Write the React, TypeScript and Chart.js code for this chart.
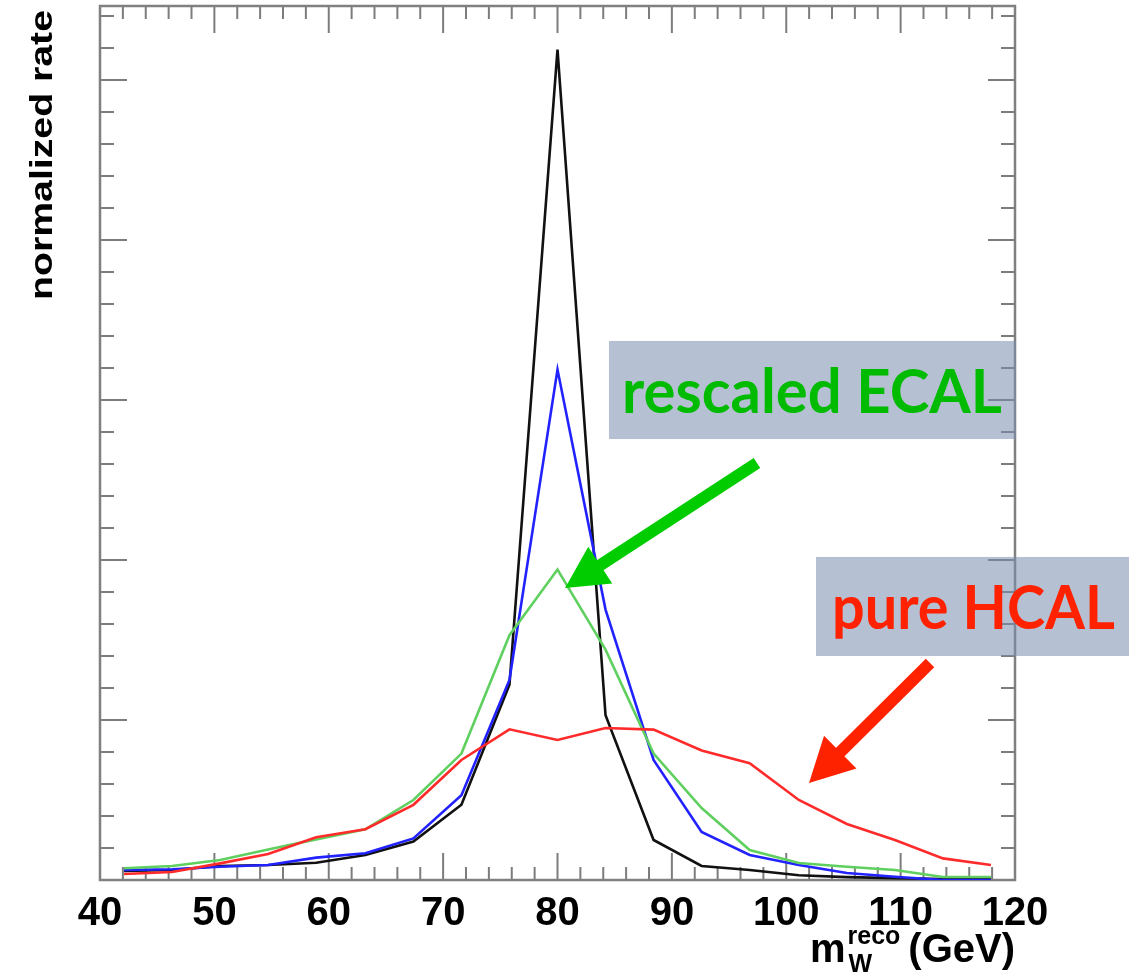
import React, { useEffect, useRef } from "react";
import { Chart, registerables } from "chart.js";

Chart.register(...registerables);

// ---------------- data ----------------
const massBins = [42.1, 46.3, 50.5, 54.7, 58.9, 63.2, 67.4, 71.6, 75.8, 80.0, 84.2, 88.4, 92.6, 96.8, 101.1, 105.3, 109.5, 113.7, 117.9];
const blackRate = [0.056, 0.0625, 0.0875, 0.094, 0.108, 0.156, 0.24, 0.47, 1.22, 5.19, 1.03, 0.25, 0.0875, 0.0625, 0.03, 0.018, 0.012, 0.006, 0.005];
const blueRate = [0.0625, 0.067, 0.083, 0.094, 0.14, 0.167, 0.26, 0.53, 1.25, 3.19, 1.69, 0.75, 0.3, 0.156, 0.094, 0.044, 0.02, 0.0, 0.0];
const greenRate = [0.073, 0.0875, 0.125, 0.19, 0.254, 0.317, 0.5, 0.79, 1.53, 1.94, 1.44, 0.79, 0.45, 0.187, 0.106, 0.083, 0.0625, 0.019, 0.019];
const redRate = [0.0375, 0.05, 0.104, 0.1625, 0.267, 0.317, 0.47, 0.75, 0.942, 0.875, 0.95, 0.94, 0.81, 0.73, 0.5, 0.35, 0.25, 0.135, 0.094];

const xTickValues = [40, 50, 60, 70, 80, 90, 100, 110, 120];
const xRange = [40, 120];
const yRange = [0, 5.4625];

const yTitle = "normalized rate";
const xTitleMain = "m";
const xTitleSub = "W";
const xTitleSup = "reco";
const xTitleUnit = "(GeV)";

const labelEcal = "rescaled ECAL";
const labelHcal = "pure HCAL";

// ---------------- helpers ----------------
function px(chart: any, x: number, y: number) {
  return [chart.scales.x.getPixelForValue(x), chart.scales.y.getPixelForValue(y)];
}

function drawArrow(ctx: CanvasRenderingContext2D, x0: number, y0: number, x1: number, y1: number, shaft: number, headLen: number, headHalf: number, color: string) {
  const dx = x1 - x0, dy = y1 - y0;
  const L = Math.hypot(dx, dy);
  const ux = dx / L, uy = dy / L;
  const nx = -uy, ny = ux;
  const bx = x1 - ux * headLen, by = y1 - uy * headLen;
  ctx.save();
  ctx.strokeStyle = color;
  ctx.fillStyle = color;
  ctx.lineWidth = shaft;
  ctx.lineCap = "butt";
  ctx.beginPath();
  ctx.moveTo(x0, y0);
  ctx.lineTo(bx + ux * 2, by + uy * 2);
  ctx.stroke();
  ctx.beginPath();
  ctx.moveTo(x1, y1);
  ctx.lineTo(bx + nx * headHalf, by + ny * headHalf);
  ctx.lineTo(bx - nx * headHalf, by - ny * headHalf);
  ctx.closePath();
  ctx.fill();
  ctx.restore();
}

function drawFitted(ctx: CanvasRenderingContext2D, text: string, x: number, y: number, targetW: number, font: string, color: string) {
  ctx.save();
  ctx.font = font;
  const w = ctx.measureText(text).width;
  ctx.translate(x, y);
  ctx.scale(targetW / w, 1);
  ctx.fillStyle = color;
  ctx.textAlign = "left";
  ctx.textBaseline = "alphabetic";
  ctx.fillText(text, 0, 0);
  ctx.restore();
}

const frameTicks = {
  id: "frameTicks",
  beforeDatasetsDraw(chart: any) {
    const { ctx, chartArea: a, scales } = chart;
    const xs = scales.x, ys = scales.y;
    ctx.save();
    ctx.strokeStyle = "#7c7c7c";
    ctx.lineWidth = 2;
    const seg = (x0: number, y0: number, x1: number, y1: number) => {
      ctx.beginPath();
      ctx.moveTo(x0, y0);
      ctx.lineTo(x1, y1);
      ctx.stroke();
    };
    for (let k = 0; ; k++) {
      const v = xRange[0] + k * 2;
      if (v > xRange[1] + 1e-9) break;
      const p = xs.getPixelForValue(v);
      const len = k % 5 === 0 ? 27 : 13;
      seg(p, a.bottom, p, a.bottom - len);
      seg(p, a.top, p, a.top + len);
    }
    for (let k = 0; ; k++) {
      const v = yRange[0] + k * 0.2;
      if (v > yRange[1] + 1e-9) break;
      const p = ys.getPixelForValue(v);
      const len = k % 5 === 0 ? 27 : 14;
      seg(a.left, p, a.left + len, p);
      seg(a.right, p, a.right - len, p);
    }
    ctx.strokeStyle = "#808080";
    ctx.lineWidth = 2.5;
    ctx.strokeRect(a.left, a.top, a.right - a.left, a.bottom - a.top);
    ctx.restore();
  },
  afterDraw(chart: any) {
    const { ctx, chartArea: a } = chart;
    ctx.save();
    // y title (stretched along its length)
    ctx.font = 'bold 32px "Liberation Sans", Arial, sans-serif';
    const tw = ctx.measureText(yTitle).width;
    ctx.translate(52, a.top + 294);
    ctx.rotate(-Math.PI / 2);
    ctx.scale(290 / tw, 1);
    ctx.fillStyle = "#000";
    ctx.textBaseline = "alphabetic";
    ctx.fillText(yTitle, 0, 0);
    ctx.restore();

    // x title with sub/superscript, right aligned at the frame's right edge
    ctx.save();
    ctx.fillStyle = "#000";
    ctx.textBaseline = "alphabetic";
    const base = a.bottom + 82;
    const mainFont = 'bold 40px "Liberation Sans", Arial, sans-serif';
    const smallFont = 'bold 25px "Liberation Sans", Arial, sans-serif';
    ctx.font = mainFont;
    const wUnit = ctx.measureText(xTitleUnit).width;
    const wM = ctx.measureText(xTitleMain).width;
    ctx.font = smallFont;
    const wSup = ctx.measureText(xTitleSup).width;
    const wSub = ctx.measureText(xTitleSub).width;
    const xUnit = a.right - wUnit;
    const xScript = xUnit - 8 - Math.max(wSup, wSub);
    const xM = xScript - 2 - wM;
    ctx.font = mainFont;
    ctx.fillText(xTitleUnit, xUnit, base);
    ctx.fillText(xTitleMain, xM, base);
    ctx.font = smallFont;
    ctx.fillText(xTitleSup, xScript, base - 18);
    ctx.fillText(xTitleSub, xScript + 1, base + 10);
    ctx.restore();

    // annotation boxes
    ctx.save();
    ctx.fillStyle = "rgba(120,140,175,0.55)";
    const [b1x0, b1y0] = px(chart, 84.5, 3.369);
    const [b1x1, b1y1] = px(chart, 120.09, 2.756);
    ctx.fillRect(b1x0, b1y0, b1x1 - b1x0, b1y1 - b1y0);
    const [b2x0, b2y0] = px(chart, 102.6, 2.019);
    const [b2x1, b2y1] = px(chart, 129.97, 1.4);
    ctx.fillRect(b2x0, b2y0, b2x1 - b2x0, b2y1 - b2y0);
    ctx.restore();

    const [t1x, t1y] = px(chart, 85.64, 2.919);
    const [t1e] = px(chart, 118.86, 0);
    drawFitted(ctx, labelEcal, t1x, t1y, t1e - t1x, 'bold 62px Lato, "Open Sans", sans-serif', "#00bb00");
    const [t2x, t2y] = px(chart, 104.0, 1.569);
    const [t2e] = px(chart, 128.74, 0);
    drawFitted(ctx, labelHcal, t2x, t2y, t2e - t2x, 'bold 62px Lato, "Open Sans", sans-serif', "#ff2200");

    // arrows
    const [g0x, g0y] = px(chart, 97.44, 2.606);
    const [g1x, g1y] = px(chart, 80.66, 1.825);
    drawArrow(ctx, g0x, g0y, g1x, g1y, 12, 42, 22, "#00cc00");
    const [r0x, r0y] = px(chart, 112.57, 1.356);
    const [r1x, r1y] = px(chart, 101.99, 0.606);
    drawArrow(ctx, r0x, r0y, r1x, r1y, 12, 44, 23, "#ff2200");
  },
};

const series = [
  { name: "pure HCAL", values: redRate, color: "#ff2b2b" },
  { name: "rescaled ECAL", values: greenRate, color: "#5fd05f" },
  { name: "blue", values: blueRate, color: "#2222ff" },
  { name: "black", values: blackRate, color: "#111111" },
];

export default function App() {
  const ref = useRef<HTMLCanvasElement>(null);
  useEffect(() => {
    if (!ref.current) return;
    const chart = new Chart(ref.current, {
      type: "line",
      data: {
        datasets: series.map((s) => ({
          label: s.name,
          data: massBins.map((m, i) => ({ x: m, y: s.values[i] })),
          borderColor: s.color,
          backgroundColor: s.color,
          borderWidth: 2.6,
          pointRadius: 0,
          tension: 0,
          fill: false,
        })),
      },
      options: {
        responsive: false,
        animation: false,
        layout: { padding: { left: 100, right: 133, top: 6, bottom: 0 } },
        plugins: { legend: { display: false }, tooltip: { enabled: false } },
        scales: {
          x: {
            type: "linear",
            min: xRange[0],
            max: xRange[1],
            afterBuildTicks: (s: any) => {
              s.ticks = xTickValues.map((v) => ({ value: v }));
            },
            afterFit: (s: any) => {
              s.height = 98;
            },
            grid: { display: false, drawTicks: false },
            border: { display: false },
            ticks: {
              color: "#000",
              padding: 10,
              maxRotation: 0,
              autoSkip: false,
              font: { family: '"Liberation Sans", Arial, sans-serif', size: 40, weight: "bold" },
            },
          },
          y: {
            type: "linear",
            display: false,
            min: yRange[0],
            max: yRange[1],
          },
        },
      },
      plugins: [frameTicks],
    });
    return () => chart.destroy();
  }, []);
  return (
    <div style={{ position: "absolute", left: 0, top: 0, width: 1148, height: 978, background: "#fff" }}>
      <canvas ref={ref} width={1148} height={978} style={{ display: "block" }} />
    </div>
  );
}
